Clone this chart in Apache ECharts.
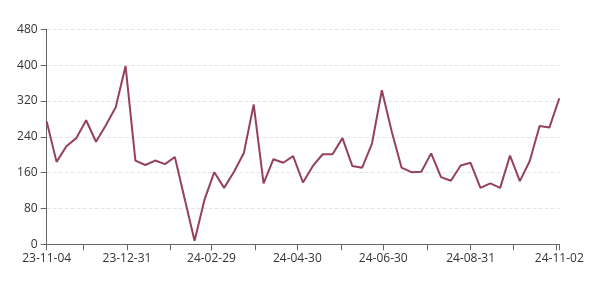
<!DOCTYPE html>
<html>
<head>
<meta charset="utf-8">
<script src="https://cdn.jsdelivr.net/npm/echarts@6/dist/echarts.min.js"></script>
<style>
html,body{margin:0;padding:0;background:#fff;}
#chart{width:599px;height:285px;}
</style>
</head>
<body>
<div id="chart"></div>
<script>
// Weekly series starting 2023-11-04
var startDate = '2023-11-04';
var values = [274,184,219,237,277,229,266,306,398,187,177,187,179,195,101,8,99,161,126,162,204,312,136,190,182,197,138,175,201,201,237,175,171,225,344,252,171,161,162,203,150,142,176,182,126,136,126,198,141,186,264,261,326];
// Tick marks (month ends) and labels
var tickDates = ['2023-11-04','2023-11-30','2023-12-31','2024-01-31','2024-02-29','2024-03-31','2024-04-30','2024-05-31','2024-06-30','2024-07-31','2024-08-31','2024-09-30','2024-10-31','2024-11-02'];
var labelDates = ['2023-11-04','2023-12-31','2024-02-29','2024-04-30','2024-06-30','2024-08-31','2024-11-02'];
var labelTexts = ['23-11-04','23-12-31','24-02-29','24-04-30','24-06-30','24-08-31','24-11-02'];
var yTicks = [0,80,160,240,320,400,480];

function dayOf(s){
  var p = s.split('-');
  var p0 = startDate.split('-');
  return Math.round((Date.UTC(+p[0],+p[1]-1,+p[2]) - Date.UTC(+p0[0],+p0[1]-1,+p0[2]))/86400000);
}
var seriesData = values.map(function(v,i){ return [i*7, v]; });
var tickDays = tickDates.map(dayOf);
var labelDays = labelDates.map(dayOf);
var labelMap = {};
labelDays.forEach(function(d,i){ labelMap[d] = labelTexts[i]; });

var chart = echarts.init(document.getElementById('chart'), null, {renderer:'canvas'});
chart.setOption({
  animation:false,
  grid:{left:46.7, right:39.7, top:29.3, bottom:40.7, containLabel:false},
  xAxis:{
    type:'value',
    min:0,
    max:dayOf(labelDates[labelDates.length-1]),
    axisLine:{show:true, lineStyle:{color:'#666', width:1}},
    axisTick:{show:true, customValues:tickDays, length:6, lineStyle:{color:'#666'}},
    axisLabel:{
      customValues:labelDays,
      formatter:function(v){ return labelMap[Math.round(v)] || ''; },
      color:'#333', fontSize:12, fontFamily:'Open Sans, sans-serif', margin:8,
      showMinLabel:true, showMaxLabel:true
    },
    splitLine:{show:false}
  },
  yAxis:{
    type:'value',
    min:yTicks[0],
    max:yTicks[yTicks.length-1],
    interval:80,
    axisLine:{show:true, lineStyle:{color:'#666', width:1}},
    axisTick:{show:true, length:6, lineStyle:{color:'#666'}},
    axisLabel:{color:'#333', fontSize:12, fontFamily:'Open Sans, sans-serif', margin:9},
    splitLine:{show:true, lineStyle:{color:'#e4e4e4', type:'dashed', width:1}}
  },
  series:[{
    type:'line',
    data:seriesData,
    showSymbol:false,
    symbol:'none',
    lineStyle:{color:'#96405f', width:2},
    itemStyle:{color:'#96405f'}
  }]
});
</script>
</body>
</html>
